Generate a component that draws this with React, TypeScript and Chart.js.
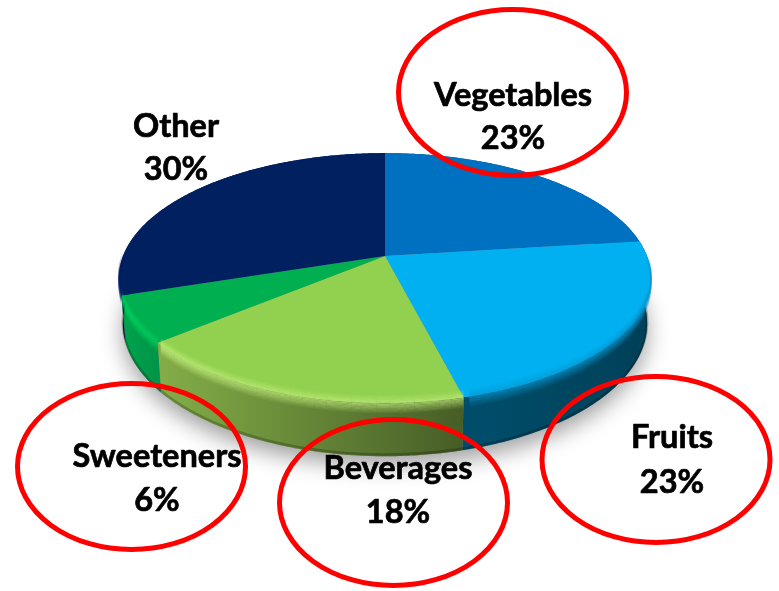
import React, { useEffect, useRef } from "react";
import { Chart, registerables } from "chart.js";

Chart.register(...registerables);

const categories = ["Vegetables", "Fruits", "Beverages", "Sweeteners", "Other"];
const shares = [23, 23, 18, 6, 30];

const faceColors = ["#0070c0", "#00b0f0", "#92d050", "#00b050", "#002060"];
const sideStart = ["#004a80", "#004e6c", "#84ae48", "#00a44c", "#001a4e"];
const sideEnd = ["#004a80", "#004058", "#465d26", "#009448", "#001a4e"];
const glowColors = ["#0060a8", "#0096cf", "#c8f482", "#00d060", "#0a2c70"];

// Where each label sits: [centre x, first baseline, second baseline]
const labelSpots = [
  [513, 106, 149],
  [672, 448, 493],
  [398, 479, 523],
  [157, 467, 511],
  [176, 137, 180],
];
// Hand-drawn callout rings: [cx, cy, rx, ry]
const rings = [
  [512.5, 92.5, 114, 83],
  [131.5, 466.5, 114, 83],
  [393.5, 502.5, 114, 83],
  [656, 459.5, 114, 83],
];

// Perspective of the pie's top face
const P = { cx: 385, cy: 256, a: 262, b: 121, k: 0.176, depth: 44, narrow: 0.985 };

const rim = (theta: number, drop = 0, xs = 1): [number, number] => {
  const u = Math.sin(theta);
  const v = Math.cos(theta);
  const w = 1 + P.k * v;
  return [P.cx + (P.a * xs * u) / w, P.cy - (P.b * v) / w + drop / w];
};

const samples = (a: number, b: number) => {
  const n = Math.max(2, Math.ceil((b - a) / 0.01));
  const out: number[] = [];
  for (let i = 0; i <= n; i++) out.push(a + ((b - a) * i) / n);
  return out;
};

const hexRgb = (h: string) => [
  parseInt(h.slice(1, 3), 16),
  parseInt(h.slice(3, 5), 16),
  parseInt(h.slice(5, 7), 16),
];

const pie3d = {
  id: "pie3d",
  beforeDatasetDraw(chart: any) {
    const ctx: CanvasRenderingContext2D = chart.ctx;
    const arcs = chart.getDatasetMeta(0).data.map((arc: any) => ({
      a: arc.startAngle + Math.PI / 2,
      b: arc.endAngle + Math.PI / 2,
      fill: arc.options.backgroundColor,
    }));

    // soft drop shadow under the body
    ctx.save();
    ctx.shadowColor = "rgba(0,0,0,0.38)";
    ctx.shadowBlur = 22;
    ctx.shadowOffsetY = 9;
    ctx.fillStyle = "#888";
    ctx.beginPath();
    samples(0, Math.PI * 2).forEach((t, i) => {
      const [x, y] = rim(t, P.depth, P.narrow);
      if (i === 0) ctx.moveTo(x, y);
      else ctx.lineTo(x, y);
    });
    ctx.closePath();
    ctx.fill();
    ctx.restore();

    // side walls
    arcs.forEach((s: any, i: number) => {
      const ts = samples(s.a, s.b);
      const xs = ts.map((t) => rim(t)[0]);
      const g = ctx.createLinearGradient(Math.min(...xs), 0, Math.max(...xs), 0);
      g.addColorStop(0, sideStart[i]);
      g.addColorStop(1, sideEnd[i]);
      ctx.fillStyle = g;
      ctx.beginPath();
      ts.forEach((t, j) => {
        const [x, y] = rim(t);
        if (j === 0) ctx.moveTo(x, y);
        else ctx.lineTo(x, y);
      });
      [...ts].reverse().forEach((t) => {
        const [x, y] = rim(t, P.depth, P.narrow);
        ctx.lineTo(x, y);
      });
      ctx.closePath();
      ctx.fill();
      // dark lower edge
      ctx.strokeStyle = "rgba(0,0,0,0.22)";
      ctx.lineWidth = 2.5;
      ctx.beginPath();
      ts.forEach((t, j) => {
        const [x, y] = rim(t, P.depth - 1.5, P.narrow);
        if (j === 0) ctx.moveTo(x, y);
        else ctx.lineTo(x, y);
      });
      ctx.stroke();
    });

    // top faces
    arcs.forEach((s: any) => {
      ctx.fillStyle = s.fill;
      ctx.beginPath();
      ctx.moveTo(P.cx, P.cy);
      samples(s.a, s.b).forEach((t) => {
        const [x, y] = rim(t);
        ctx.lineTo(x, y);
      });
      ctx.closePath();
      ctx.fill();
    });

    // rounded bevel between face and wall: fades in along the front of the rim
    arcs.forEach((s: any, i: number) => {
      const [r, g, b] = hexRgb(glowColors[i]);
      const ts = samples(s.a, s.b).filter((t) => Math.cos(t) < 0.02);
      if (ts.length < 2) return;
      for (let off = -6; off <= 8; off += 1) {
        const alpha = off <= 1 ? (off + 7) / 8 : 1 - (off - 1) / 8;
        ctx.lineWidth = 1.3;
        for (let j = 0; j + 4 < ts.length; j += 4) {
          const fade = Math.min(1, (0.02 - Math.cos(ts[j + 2])) / 0.45);
          ctx.strokeStyle = `rgba(${r},${g},${b},${alpha * 0.62 * fade})`;
          ctx.beginPath();
          for (let q = j; q <= j + 4; q++) {
            const [x, y] = rim(ts[q], off);
            if (q === j) ctx.moveTo(x, y);
            else ctx.lineTo(x, y);
          }
          ctx.stroke();
        }
      }
    });
    return false; // faces are painted above from the library's own arc angles
  },
  afterDatasetsDraw(chart: any) {
    const ctx: CanvasRenderingContext2D = chart.ctx;
    ctx.save();
    ctx.fillStyle = "#000";
    ctx.strokeStyle = "#000";
    ctx.lineWidth = 0.7;
    ctx.lineJoin = "round";
    ctx.textAlign = "center";
    ctx.textBaseline = "alphabetic";
    ctx.font = "bold 32.5px Lato, 'Open Sans', sans-serif";
    categories.forEach((name, i) => {
      const [x, y1, y2] = labelSpots[i];
      ctx.fillText(name, x, y1);
      ctx.strokeText(name, x, y1);
      ctx.fillText(`${shares[i]}%`, x, y2);
      ctx.strokeText(`${shares[i]}%`, x, y2);
    });
    ctx.strokeStyle = "#ff0000";
    ctx.lineWidth = 5;
    rings.forEach(([cx, cy, rx, ry]) => {
      ctx.beginPath();
      ctx.ellipse(cx, cy, rx, ry, 0, 0, Math.PI * 2);
      ctx.stroke();
    });
    ctx.restore();
  },
};

export default function App() {
  const ref = useRef<HTMLCanvasElement>(null);
  useEffect(() => {
    document.body.style.margin = "0";
    document.body.style.background = "#fff";
    const chart = new Chart(ref.current as HTMLCanvasElement, {
      type: "pie",
      data: {
        labels: categories,
        datasets: [{ data: shares, backgroundColor: faceColors, borderWidth: 0 }],
      },
      options: {
        responsive: false,
        animation: false,
        plugins: { legend: { display: false }, tooltip: { enabled: false } },
      },
      plugins: [pie3d],
    } as any);
    return () => chart.destroy();
  }, []);
  return (
    <div style={{ width: 779, height: 591, overflow: "hidden" }}>
      <canvas ref={ref} width={779} height={591} style={{ display: "block" }} />
    </div>
  );
}
